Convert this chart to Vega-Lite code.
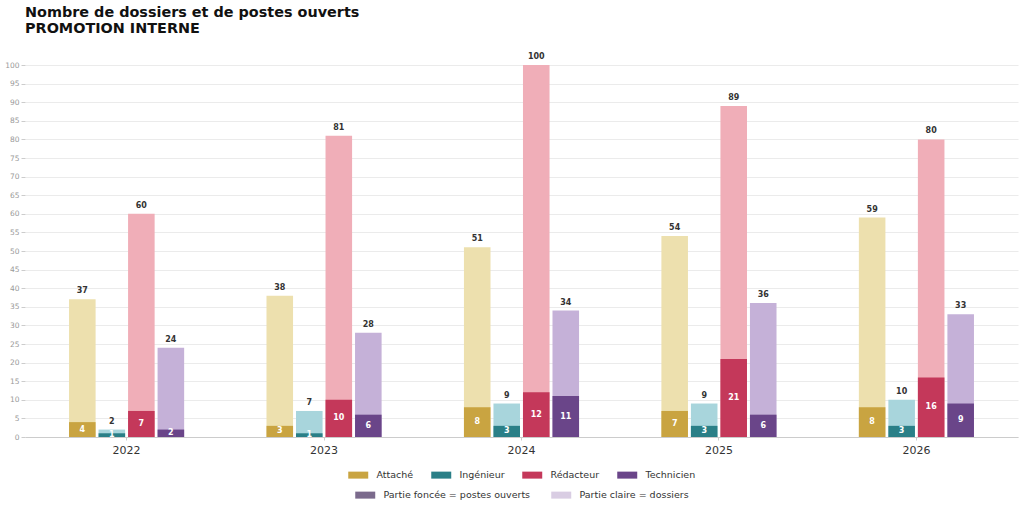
{
  "$schema": "https://vega.github.io/schema/vega-lite/v6.json",
  "autosize": {"type": "fit", "contains": "padding"},
  "width": 1024,
  "height": 509,
  "padding": {"left": 4, "right": 6, "top": 4, "bottom": 9},
  "title": {
    "text": ["Nombre de dossiers et de postes ouverts", "PROMOTION INTERNE"],
    "anchor": "start",
    "frame": "group",
    "font": "DejaVu Sans",
    "fontSize": 14.4,
    "fontWeight": "bold",
    "lineHeight": 16,
    "color": "#111111",
    "offset": 17
  },
  "data": {
    "values": [
      {"year": "2022", "grade": "Attaché", "dossiers": 37, "postes": 4},
      {"year": "2022", "grade": "Ingénieur", "dossiers": 2, "postes": 1},
      {"year": "2022", "grade": "Rédacteur", "dossiers": 60, "postes": 7},
      {"year": "2022", "grade": "Technicien", "dossiers": 24, "postes": 2},
      {"year": "2023", "grade": "Attaché", "dossiers": 38, "postes": 3},
      {"year": "2023", "grade": "Ingénieur", "dossiers": 7, "postes": 1},
      {"year": "2023", "grade": "Rédacteur", "dossiers": 81, "postes": 10},
      {"year": "2023", "grade": "Technicien", "dossiers": 28, "postes": 6},
      {"year": "2024", "grade": "Attaché", "dossiers": 51, "postes": 8},
      {"year": "2024", "grade": "Ingénieur", "dossiers": 9, "postes": 3},
      {"year": "2024", "grade": "Rédacteur", "dossiers": 100, "postes": 12},
      {"year": "2024", "grade": "Technicien", "dossiers": 34, "postes": 11},
      {"year": "2025", "grade": "Attaché", "dossiers": 54, "postes": 7},
      {"year": "2025", "grade": "Ingénieur", "dossiers": 9, "postes": 3},
      {"year": "2025", "grade": "Rédacteur", "dossiers": 89, "postes": 21},
      {"year": "2025", "grade": "Technicien", "dossiers": 36, "postes": 6},
      {"year": "2026", "grade": "Attaché", "dossiers": 59, "postes": 8},
      {"year": "2026", "grade": "Ingénieur", "dossiers": 10, "postes": 3},
      {"year": "2026", "grade": "Rédacteur", "dossiers": 80, "postes": 16},
      {"year": "2026", "grade": "Technicien", "dossiers": 33, "postes": 9}
    ]
  },
  "layer": [
    {
      "mark": {"type": "bar"},
      "encoding": {
        "x": {
          "field": "year", "type": "nominal", "title": null,
          "scale": {"paddingInner": 0.417, "paddingOuter": 0.223},
          "axis": {"labelAngle": 0, "labelFontSize": 11, "labelColor": "#333333", "labelPadding": 4, "domainColor": "#cccccc", "tickColor": "#cccccc", "tickSize": 3, "grid": false}
        },
        "xOffset": {"field": "grade", "sort": ["Attaché", "Ingénieur", "Rédacteur", "Technicien"], "scale": {"paddingInner": 0.1}},
        "y": {
          "field": "dossiers", "type": "quantitative", "title": null,
          "scale": {"domain": [0, 100], "nice": false},
          "axis": {"values": [0, 5, 10, 15, 20, 25, 30, 35, 40, 45, 50, 55, 60, 65, 70, 75, 80, 85, 90, 95, 100], "labelFontSize": 7.5, "labelColor": "#999999", "tickColor": "#cccccc", "tickSize": 4, "domain": false, "gridColor": "#ebebeb"}
        },
        "color": {
          "field": "grade", "type": "nominal", "legend": null,
          "scale": {"domain": ["Attaché", "Ingénieur", "Rédacteur", "Technicien"], "range": ["#ede0ae", "#a8d5dc", "#f0aeb8", "#c5b1d8"]}
        }
      }
    },
    {
      "mark": {"type": "bar"},
      "encoding": {
        "x": {"field": "year", "type": "nominal"},
        "xOffset": {"field": "grade", "sort": ["Attaché", "Ingénieur", "Rédacteur", "Technicien"]},
        "y": {"field": "postes", "type": "quantitative", "scale": {"domain": [0, 100], "nice": false}, "axis": null},
        "fill": {
          "field": "grade", "type": "nominal",
          "scale": {"domain": ["Attaché", "Ingénieur", "Rédacteur", "Technicien"], "range": ["#c9a441", "#2a7f87", "#c4385a", "#6a4589"]},
          "legend": {"orient": "bottom", "title": null, "direction": "horizontal", "columns": 4, "columnPadding": 16, "labelOffset": 20, "symbolType": "M-1,-1H4.71V1H-1Z", "symbolSize": 49, "symbolStrokeWidth": 0, "labelFontSize": 9.5, "labelColor": "#333333", "labelFont": "DejaVu Sans", "offset": 15}
        }
      }
    },
    {
      "mark": {"type": "text", "dy": -8, "fontSize": 8, "fontWeight": "bold", "color": "#333333", "font": "DejaVu Sans"},
      "encoding": {
        "x": {"field": "year", "type": "nominal"},
        "xOffset": {"field": "grade", "sort": ["Attaché", "Ingénieur", "Rédacteur", "Technicien"]},
        "y": {"field": "dossiers", "type": "quantitative", "scale": {"domain": [0, 100], "nice": false}, "axis": null},
        "text": {"field": "dossiers", "type": "quantitative"}
      }
    },
    {
      "mark": {"type": "text", "fontSize": 8, "fontWeight": "bold", "color": "#ffffff", "font": "DejaVu Sans", "baseline": "middle"},
      "encoding": {
        "x": {"field": "year", "type": "nominal"},
        "xOffset": {"field": "grade", "sort": ["Attaché", "Ingénieur", "Rédacteur", "Technicien"]},
        "y": {"field": "postes", "type": "quantitative", "scale": {"domain": [0, 200], "nice": false}, "axis": null},
        "text": {"field": "postes", "type": "quantitative"}
      }
    },
    {
      "data": {"values": [{"part": "Partie foncée = postes ouverts"}, {"part": "Partie claire = dossiers"}]},
      "mark": {"type": "point", "opacity": 0, "filled": true},
      "encoding": {
        "color": {
          "field": "part", "type": "nominal",
          "scale": {"domain": ["Partie foncée = postes ouverts", "Partie claire = dossiers"], "range": ["#7b6a8c", "#d9cde3"]},
          "legend": {"orient": "bottom", "title": null, "direction": "horizontal", "columns": 2, "columnPadding": 19, "labelOffset": 20, "symbolType": "M-1,-1H4.71V1H-1Z", "symbolSize": 49, "symbolOpacity": 1, "symbolStrokeWidth": 0, "labelFontSize": 9.5, "labelColor": "#333333", "labelFont": "DejaVu Sans", "offset": 15}
        }
      }
    }
  ],
  "resolve": {"scale": {"color": "independent", "y": "independent"}},
  "config": {
    "font": "DejaVu Sans",
    "view": {"stroke": null},
    "axis": {"labelFont": "DejaVu Sans"},
    "legend": {"layout": {"bottom": {"anchor": "middle", "direction": "vertical", "center": true, "margin": 10}}}
  }
}
